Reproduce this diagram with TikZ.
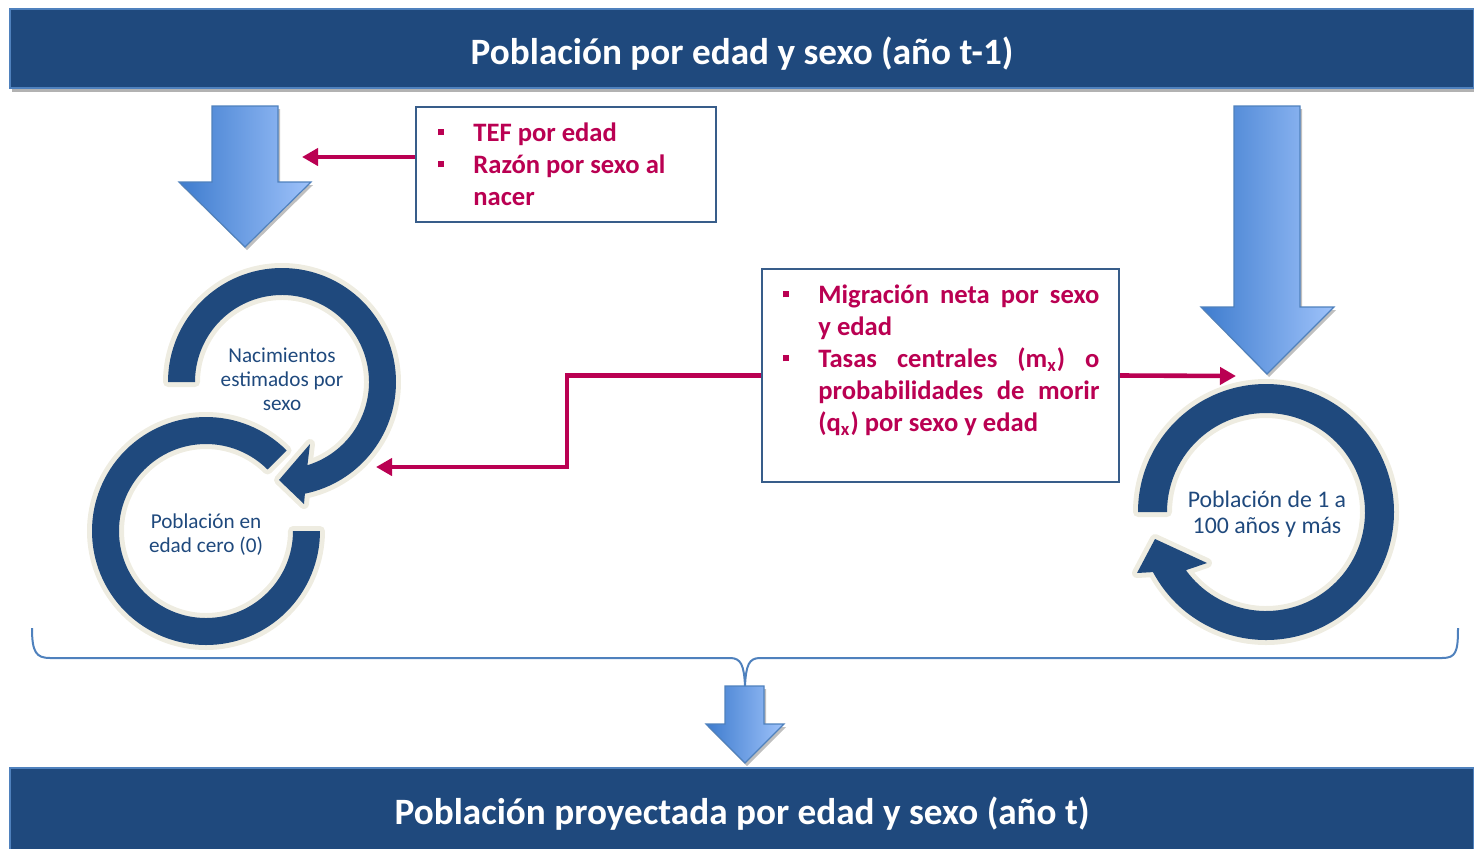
\documentclass[tikz,border=0pt]{standalone}
\usepackage{fontspec}
\setmainfont{Carlito}
\usetikzlibrary{arrows.meta,shadows,calc}
\definecolor{navy}{HTML}{1F497D}
\definecolor{edgeblue}{HTML}{4F81BD}
\definecolor{crim}{RGB}{186,0,82}
\definecolor{beige}{HTML}{EEECE1}
\definecolor{arrL}{RGB}{62,124,206}
\definecolor{arrR}{RGB}{158,194,250}
\definecolor{boxline}{HTML}{385D8A}
\newcommand{\bul}{\makebox[17.5pt][l]{\rule[2.8pt]{3pt}{3pt}}}
\begin{document}
\begin{tikzpicture}[x=0.5pt,y=-0.5pt,
  banner/.style={fill=navy, draw=edgeblue, line width=1pt, inner sep=0pt,
    drop shadow={shadow xshift=1pt, shadow yshift=-2pt, opacity=.3, fill=black}},
  bannertext/.style={text=white, font=\bfseries\fontsize{18.6}{22}\selectfont, inner sep=0pt},
  blockarrow/.style={left color=arrL, right color=arrR, draw=edgeblue, line width=0.6pt,
    drop shadow={shadow xshift=1pt, shadow yshift=-1.5pt, opacity=.25, fill=black}},
  ring/.style={fill=navy, preaction={draw=beige, line width=5pt, line join=round}},
  infobox/.style={draw=boxline, line width=1pt, fill=white, inner sep=0pt},
  conn/.style={draw=crim, line width=2.3pt, -{Triangle[length=8pt,width=8.5pt]}},
  crimtext/.style={text=crim, font=\bfseries\fontsize{13.3}{16}\selectfont, inner sep=0pt, anchor=base west},
  ringtext/.style={text=navy, align=center, inner sep=0pt},
]
\useasboundingbox (0,0) rectangle (1474,848);

% banners
\node[banner, minimum width=732pt, minimum height=39.5pt] (top) at (742,48.5) {};
\node[bannertext] (toptext) at (742,53.5) {Población por edad y sexo (año t-1)};
\node[banner, minimum width=732pt, minimum height=44pt] (bottom) at (742,812) {};
\node[bannertext] (bottomtext) at (742,814) {Población proyectada por edad y sexo (año t)};

% block arrows
\shadedraw[blockarrow] (212,106) -- (278,106) -- (278,182) -- (311,182) -- (245,247) -- (179,182) -- (212,182) -- cycle;
\shadedraw[blockarrow] (1234,106) -- (1300,106) -- (1300,307) -- (1334,307) -- (1267,374) -- (1201,307) -- (1234,307) -- cycle;
\shadedraw[blockarrow] (725,686) -- (764,686) -- (764,724) -- (784,724) -- (745,763) -- (706,724) -- (725,724) -- cycle;

% brace
\draw[edgeblue, line width=1pt] (32,628) .. controls (32,652) and (36,658) .. (50,658) -- (730,658)
  .. controls (741,658) and (744,665) .. (745,686)
  .. controls (746,665) and (749,658) .. (760,658) -- (1442,658)
  .. controls (1456,658) and (1458,652) .. (1458,628);

% rings
\begin{scope}[shift={(206,531)}]
\path[ring] (-45:114) arc[start angle=-45, end angle=-360, radius=114] -- (-360:87) arc[start angle=-360, end angle=-45, radius=87] -- cycle;
\end{scope}
\begin{scope}[shift={(282,382)}]
\path[ring] (180:114) arc[start angle=180, end angle=438.4, radius=114] -- (22,122) -- (-3,98) -- (28,62) -- (433:87) arc[start angle=433, end angle=180, radius=87] -- cycle;
\end{scope}
\begin{scope}[shift={(1266,512)}]
\path[ring] (180:128) arc[start angle=180, end angle=512, radius=128] -- (-129,61) -- (-111,27) -- (-59,51) -- (504:99) arc[start angle=504, end angle=180, radius=99] -- cycle;
\end{scope}

\node[ringtext, font=\fontsize{10.6}{12}\selectfont] (births) at (282,379) {Nacimientos\\estimados por\\sexo};
\node[ringtext, font=\fontsize{10.6}{12}\selectfont] (age0) at (206,535) {Población en\\edad cero (0)};
\node[ringtext, font=\fontsize{11.9}{13}\selectfont] (ages) at (1267,514) {Población de 1 a\\100 años y más};

% info boxes
\node[infobox, minimum width=150pt, minimum height=57.5pt] (tef) at (566,164.5) {};
\node[crimtext] (teftext) at (438,141) {\parbox[t]{140pt}{\fontsize{13.3}{16}\selectfont
  \bul TEF por edad\\
  \bul Razón por sexo al\\
  \hspace*{17.5pt}nacer}};

\node[infobox, minimum width=178.5pt, minimum height=106.5pt] (mig) at (940.5,375.5) {};
\node[crimtext] (migtext) at (783,303) {\parbox[t]{170pt}{\fontsize{13.3}{16}\selectfont
  \bul\makebox[140.5pt][s]{Migración neta por sexo}\\
  \hspace*{17.5pt}y edad\\
  \bul\makebox[140.5pt][s]{Tasas centrales (m\textsubscript{x}) o}\\
  \hspace*{17.5pt}\makebox[140.5pt][s]{probabilidades de morir}\\
  \hspace*{17.5pt}(q\textsubscript{x}) por sexo y edad}};

% connectors
\coordinate (tefTip) at (302,157);
\coordinate (ageTip) at (1236,376);
\coordinate (birthTip) at (376,467);
\draw[conn] (tefTip -| tef.west) -- (tefTip);
\draw[conn] (mig.east) -- (ageTip);
\draw[conn] (mig.west) -- ++(-194,0) |- (birthTip);
\end{tikzpicture}
\end{document}
